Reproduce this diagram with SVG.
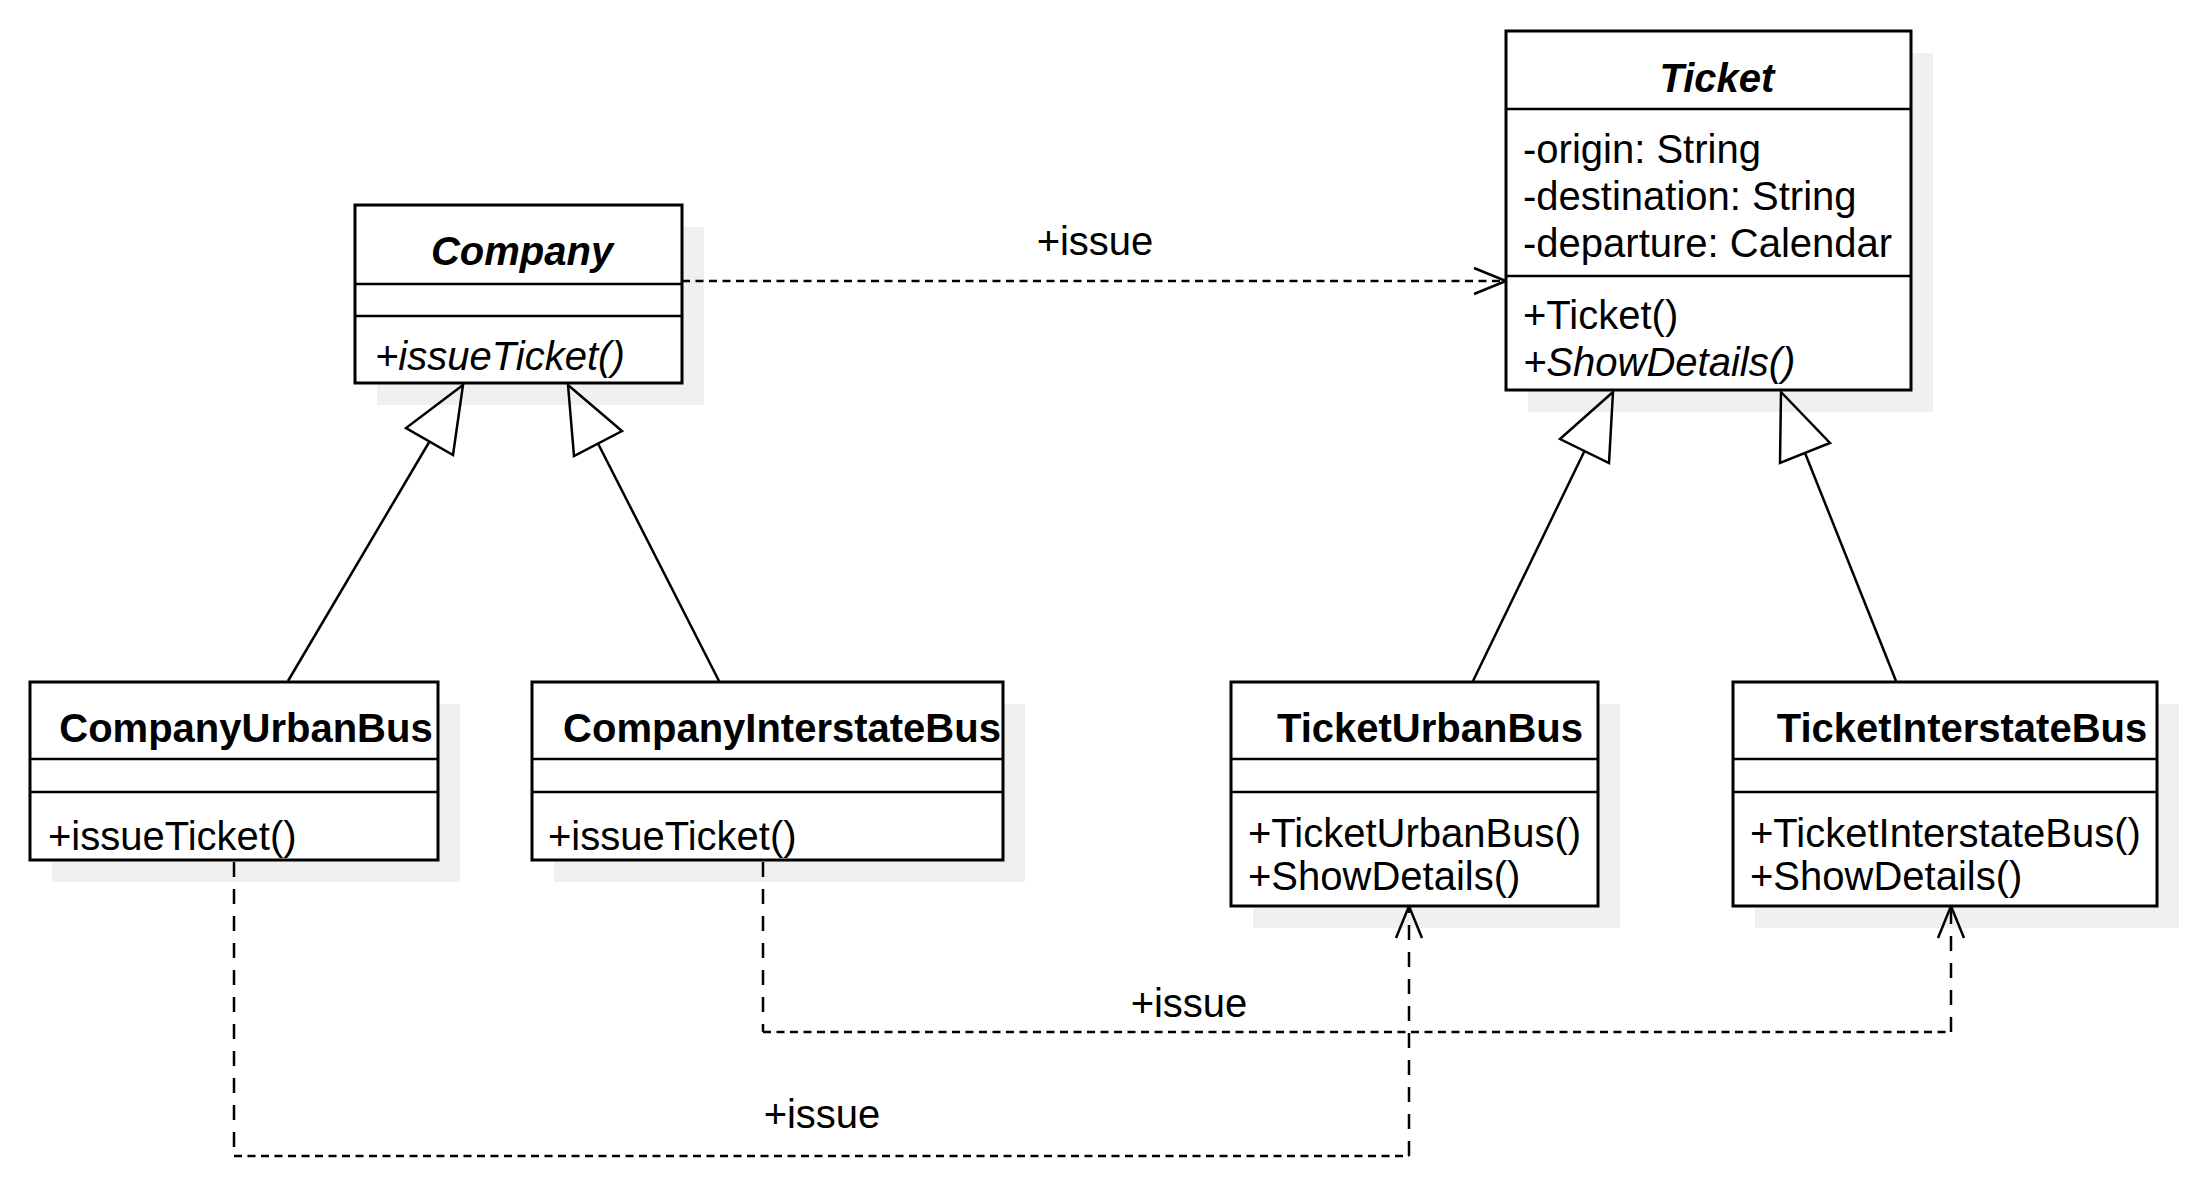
<svg xmlns="http://www.w3.org/2000/svg" width="2188" height="1191" viewBox="0 0 2188 1191">
<style>
text { font-family: "Liberation Sans", Arial, Helvetica, sans-serif; font-size: 40px; fill: #000; }
.name { font-weight: bold; text-anchor: middle; }
.abs { font-style: italic; }
.box { fill: #fff; stroke: #000; stroke-width: 3; }
.shadow { fill: #f0f0f0; stroke: none; }
.div { stroke: #000; stroke-width: 2.5; }
.gen { stroke: #000; stroke-width: 2.5; fill: none; }
.tri { stroke: #000; stroke-width: 2.5; fill: none; stroke-linejoin: miter; }
.dh { stroke: #000; stroke-width: 2.5; fill: none; stroke-dasharray: 8 5.5; }
.dv { stroke: #000; stroke-width: 2.5; fill: none; stroke-dasharray: 15 12; }
.head { stroke: #000; stroke-width: 2.5; fill: none; }
.lbl { text-anchor: middle; }
</style>
<rect width="2188" height="1191" fill="#fff"/>

<g id="shadows">
<rect class="shadow" x="377" y="227" width="327" height="178"/>
<rect class="shadow" x="1528" y="53" width="405" height="359"/>
<rect class="shadow" x="52" y="704" width="408" height="178"/>
<rect class="shadow" x="554" y="704" width="471" height="178"/>
<rect class="shadow" x="1253" y="704" width="367" height="224"/>
<rect class="shadow" x="1755" y="704" width="424" height="224"/>
</g>

<g id="connectors">
<!-- Company -> Ticket dependency -->
<line class="dh" x1="682" y1="281" x2="1504" y2="281"/>
<polyline class="head" points="1474,268 1506,281 1474,294"/>
<!-- CompanyUrbanBus -> TicketUrbanBus -->
<line class="dv" x1="234" y1="862" x2="234" y2="1156"/>
<line class="dh" x1="234" y1="1156" x2="1409" y2="1156"/>
<line class="dv" x1="1409" y1="1156" x2="1409" y2="908"/>
<polyline class="head" points="1396,938 1409,906 1422,938"/>
<!-- CompanyInterstateBus -> TicketInterstateBus -->
<line class="dv" x1="763" y1="862" x2="763" y2="1032"/>
<line class="dh" x1="763" y1="1032" x2="1951" y2="1032"/>
<line class="dv" x1="1951" y1="1032" x2="1951" y2="908"/>
<polyline class="head" points="1938,938 1951,906 1964,938"/>
<!-- generalizations -->
<line class="gen" x1="288" y1="681" x2="429.5" y2="441.5"/>
<polygon class="tri" points="463,385 406,428 453,455"/>
<line class="gen" x1="719" y1="681" x2="598" y2="443.5"/>
<polygon class="tri" points="568,385 622,431 574,456"/>
<line class="gen" x1="1473" y1="681" x2="1584.5" y2="451"/>
<polygon class="tri" points="1613,392 1560,439 1609,463"/>
<line class="gen" x1="1896" y1="681" x2="1805" y2="453"/>
<polygon class="tri" points="1781,392 1830,443 1780,463"/>
<!-- labels -->
<text class="lbl" x="1095" y="255">+issue</text>
<text class="lbl" x="1189" y="1017">+issue</text>
<text class="lbl" x="822" y="1128">+issue</text>
</g>

<g id="Company">
<rect class="box" x="355" y="205" width="327" height="178"/>
<line class="div" x1="355" y1="284" x2="682" y2="284"/>
<line class="div" x1="355" y1="316" x2="682" y2="316"/>
<text class="name abs" x="522" y="265">Company</text>
<text class="abs" x="375" y="370">+issueTicket()</text>
</g>

<g id="Ticket">
<rect class="box" x="1506" y="31" width="405" height="359"/>
<line class="div" x1="1506" y1="109" x2="1911" y2="109"/>
<line class="div" x1="1506" y1="276" x2="1911" y2="276"/>
<text class="name abs" x="1717" y="92">Ticket</text>
<text x="1523" y="163">-origin: String</text>
<text x="1523" y="210">-destination: String</text>
<text x="1523" y="257">-departure: Calendar</text>
<text x="1523" y="329">+Ticket()</text>
<text class="abs" x="1523" y="376">+ShowDetails()</text>
</g>

<g id="CompanyUrbanBus">
<rect class="box" x="30" y="682" width="408" height="178"/>
<line class="div" x1="30" y1="759" x2="438" y2="759"/>
<line class="div" x1="30" y1="792" x2="438" y2="792"/>
<text class="name" x="246" y="742">CompanyUrbanBus</text>
<text x="48" y="850">+issueTicket()</text>
</g>

<g id="CompanyInterstateBus">
<rect class="box" x="532" y="682" width="471" height="178"/>
<line class="div" x1="532" y1="759" x2="1003" y2="759"/>
<line class="div" x1="532" y1="792" x2="1003" y2="792"/>
<text class="name" x="782" y="742">CompanyInterstateBus</text>
<text x="548" y="850">+issueTicket()</text>
</g>

<g id="TicketUrbanBus">
<rect class="box" x="1231" y="682" width="367" height="224"/>
<line class="div" x1="1231" y1="759" x2="1598" y2="759"/>
<line class="div" x1="1231" y1="792" x2="1598" y2="792"/>
<text class="name" x="1430" y="742">TicketUrbanBus</text>
<text x="1248" y="847">+TicketUrbanBus()</text>
<text x="1248" y="890">+ShowDetails()</text>
</g>

<g id="TicketInterstateBus">
<rect class="box" x="1733" y="682" width="424" height="224"/>
<line class="div" x1="1733" y1="759" x2="2157" y2="759"/>
<line class="div" x1="1733" y1="792" x2="2157" y2="792"/>
<text class="name" x="1962" y="742">TicketInterstateBus</text>
<text x="1750" y="847">+TicketInterstateBus()</text>
<text x="1750" y="890">+ShowDetails()</text>
</g>
</svg>
